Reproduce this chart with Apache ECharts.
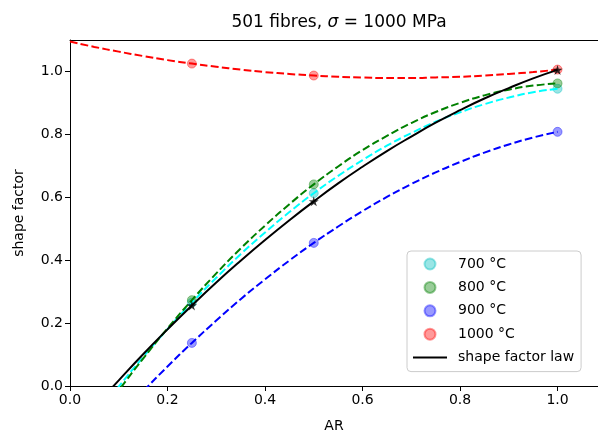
<!DOCTYPE html>
<html>
<head>
<meta charset="utf-8">
<script src="https://cdn.jsdelivr.net/npm/echarts@6/dist/echarts.min.js"></script>
<style>html,body{margin:0;padding:0;background:#fff}#c{width:598px;height:438px}</style>
</head>
<body>
<div id="c"></div>
<script>
// ---- data ----
const arPoints = [0.25, 0.5, 1.0];
const s700 = [0.265, 0.613, 0.945];
const s800 = [0.273, 0.641, 0.962];
const s900 = [0.137, 0.455, 0.808];
const s1000 = [1.025, 0.987, 1.006];
const lawPoints = [0.256, 0.587, 1.005];

const curveX = [0, 0.05, 0.1, 0.15, 0.2, 0.25, 0.3, 0.35, 0.4, 0.45, 0.5, 0.55, 0.6, 0.65, 0.7, 0.75, 0.8, 0.85, 0.9, 0.95, 1.0];
const fit700 = [-0.204, -0.101, -0.002, 0.092, 0.181, 0.265, 0.344, 0.419, 0.488, 0.553, 0.613, 0.668, 0.718, 0.764, 0.804, 0.840, 0.870, 0.896, 0.917, 0.934, 0.945];
const fit800 = [-0.233, -0.121, -0.014, 0.087, 0.183, 0.273, 0.358, 0.437, 0.510, 0.578, 0.641, 0.698, 0.750, 0.795, 0.836, 0.871, 0.900, 0.924, 0.942, 0.955, 0.962];
const fit900 = [-0.275, -0.185, -0.099, -0.017, 0.062, 0.137, 0.208, 0.276, 0.339, 0.399, 0.455, 0.507, 0.556, 0.601, 0.642, 0.679, 0.712, 0.742, 0.768, 0.790, 0.808];
const fit1000 = [1.095, 1.078, 1.063, 1.049, 1.036, 1.025, 1.015, 1.006, 0.998, 0.992, 0.987, 0.983, 0.981, 0.979, 0.979, 0.981, 0.983, 0.987, 0.992, 0.998, 1.006];
const lawCurve = [-0.156, -0.067, 0.018, 0.101, 0.180, 0.256, 0.329, 0.398, 0.464, 0.527, 0.587, 0.644, 0.697, 0.747, 0.793, 0.837, 0.877, 0.914, 0.947, 0.978, 1.005];

const tickValues = [0, 0.2, 0.4, 0.6, 0.8, 1.0];
const legendNames = ['700 °C', '800 °C', '900 °C', '1000 °C', 'shape factor law'];

const zip = (xs, ys) => xs.map((x, i) => [x, ys[i]]);
const font = 'DejaVu Sans';
const star = 'path://M50,0 L61.2,34.5 L97.6,34.5 L68.2,55.9 L79.4,90.5 L50,69.1 L20.6,90.5 L31.8,55.9 L2.4,34.5 L38.8,34.5 Z';

function scatter(name, ys, color) {
  return {
    name: name, type: 'scatter', data: zip(arPoints, ys), symbol: 'circle', symbolSize: 9, z: 2,
    itemStyle: { color: color, borderColor: color, borderWidth: 1 }
  };
}
function fitLine(name, ys, color) {
  return {
    name: name, type: 'line', data: zip(curveX, ys), smooth: true, showSymbol: false, symbol: 'none', z: 3,
    clip: true, silent: true,
    lineStyle: { color: color, width: 2, type: [7.7, 3.3] }
  };
}

const chart = echarts.init(document.getElementById('c'), null, { renderer: 'canvas' });
chart.setOption({
  animation: false,
  backgroundColor: '#fff',
  title: {
    text: '501 fibres, {i|σ} = 1000 MPa',
    left: 334, top: 9, textAlign: 'center',
    textStyle: {
      fontFamily: font, fontSize: 17, fontWeight: 'normal', color: '#000',
      rich: { i: { fontFamily: font, fontSize: 17, fontStyle: 'italic', color: '#000' } }
    }
  },
  grid: { left: 70, top: 40, right: 0, height: 347, show: false, containLabel: false },
  legend: {
    orient: 'vertical', left: 407, top: 251,
    data: [
      { name: '700 °C', icon: 'circle' },
      { name: '800 °C', icon: 'circle' },
      { name: '900 °C', icon: 'circle' },
      { name: '1000 °C', icon: 'circle' },
      { name: 'shape factor law', icon: 'path://M0,0 L100,0 L100,6 L0,6 Z' }
    ],
    itemWidth: 34, itemHeight: 11, itemGap: 9.4,
    padding: [6, 7, 7, 6],
    borderColor: '#cccccc', borderWidth: 1, borderRadius: 4, backgroundColor: 'rgba(255,255,255,0.8)',
    textStyle: { fontFamily: font, fontSize: 14, color: '#000', padding: [0, 0, 0, 6] },
    selectedMode: false
  },
  xAxis: [{
    type: 'value', min: 0, max: 1.083, interval: 0.2,
    name: 'AR', nameLocation: 'middle', nameGap: 33,
    nameTextStyle: { fontFamily: font, fontSize: 14, color: '#000' },
    axisLine: { show: true, onZero: false, lineStyle: { color: '#000', width: 1 } },
    axisTick: { show: true, length: 5, inside: false, lineStyle: { color: '#000' }, customValues: tickValues },
    axisLabel: { fontFamily: font, fontSize: 14, color: '#000', margin: 7, formatter: v => v.toFixed(1), customValues: tickValues },
    splitLine: { show: false }
  }, {
    type: 'value', position: 'top', min: 0, max: 1.083,
    axisLine: { show: true, onZero: false, lineStyle: { color: '#000', width: 1 } },
    axisTick: { show: false }, axisLabel: { show: false }, splitLine: { show: false }
  }],
  yAxis: {
    type: 'value', min: 0, max: 1.1, interval: 0.2,
    name: 'shape factor', nameLocation: 'middle', nameGap: 44, nameRotate: 90,
    nameTextStyle: { fontFamily: font, fontSize: 14, color: '#000' },
    axisLine: { show: true, onZero: false, lineStyle: { color: '#000', width: 1 } },
    axisTick: { show: true, length: 5, inside: false, lineStyle: { color: '#000' }, customValues: tickValues },
    axisLabel: { fontFamily: font, fontSize: 14, color: '#000', margin: 7, formatter: v => v.toFixed(1), customValues: tickValues },
    splitLine: { show: false }
  },
  series: [
    scatter('700 °C', s700, 'rgba(0,191,191,0.5)'),
    scatter('800 °C', s800, 'rgba(0,128,0,0.5)'),
    scatter('900 °C', s900, 'rgba(0,0,255,0.5)'),
    scatter('1000 °C', s1000, 'rgba(255,0,0,0.5)'),
    fitLine('fit 700', fit700, '#00ffff'),
    fitLine('fit 800', fit800, '#008000'),
    fitLine('fit 900', fit900, '#0000ff'),
    fitLine('fit 1000', fit1000, '#ff0000'),
    {
      name: 'shape factor law', type: 'line', data: zip(curveX, lawCurve), smooth: true, showSymbol: false, symbol: 'none',
      z: 4, clip: true, itemStyle: { color: '#000' }, lineStyle: { color: '#000', width: 2 }
    },
    {
      name: 'law points', type: 'scatter', data: zip(arPoints, lawPoints), symbol: star, symbolSize: 10, z: 5,
      itemStyle: { color: '#000' }
    }
  ]
});
</script>
</body>
</html>
